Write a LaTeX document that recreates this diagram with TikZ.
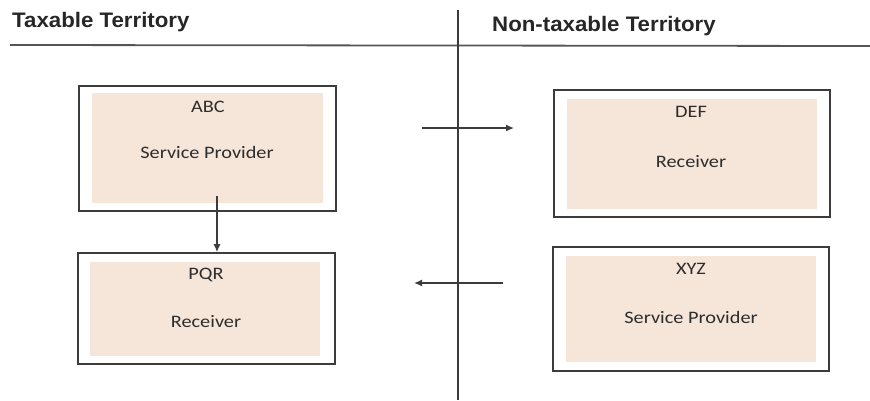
\documentclass[tikz,border=0pt]{standalone}
\usepackage{fontspec}
\setmainfont{Carlito}
\newfontfamily\boxfont[FakeStretch=1.16]{Carlito}
\newfontfamily\headfont[FakeStretch=1.06]{Liberation Sans}
\usetikzlibrary{arrows.meta}
\definecolor{peach}{RGB}{246,229,217}
\definecolor{edge}{RGB}{60,60,60}
\definecolor{txt}{RGB}{45,45,45}
\definecolor{rule}{RGB}{85,85,85}
\tikzset{
  outerbox/.style={draw=edge, line width=1.6pt, fill=white, inner sep=0pt},
  innerfill/.style={fill=peach, draw=none, inner sep=0pt},
  boxtext/.style={text=txt, font=\boxfont\fontsize{17.5}{19}\selectfont, inner sep=0pt},
  headtext/.style={text=black!85, font=\headfont\bfseries\fontsize{21}{23}\selectfont, anchor=west, inner sep=0pt},
  ruleline/.style={draw=rule, line width=1.8pt},
  flow/.style={draw=edge, line width=1.4pt, -{Latex[length=8pt,width=7pt]}}
}
\begin{document}
\begin{tikzpicture}[x=1pt,y=-1pt]
\useasboundingbox (0,0) rectangle (870,400);
% headers
\node[headtext] (tax) at (12,22) {Taxable Territory};
\node[headtext] (nontax) at (492,26) {Non-taxable Territory};
\coordinate (hl1) at (10,45);
\coordinate (hl2) at (870,46);
\draw[ruleline] (hl1) -- (hl2);
\coordinate (vt) at (458,10);
\coordinate (vb) at (458,400);
\draw[draw=edge, line width=1.3pt] (vt) -- (vb);
% boxes
\node[outerbox, minimum width=257pt, minimum height=125pt] (abc) at (207.5,148.5) {};
\node[innerfill, minimum width=231pt, minimum height=110pt] (abcin) at (207.5,148) {};
\node[boxtext] (abct) at (208,107) {ABC};
\node[boxtext] (abcs) at (207,152) {Service Provider};

\node[outerbox, minimum width=257pt, minimum height=111pt] (pqr) at (206.5,308.5) {};
\node[innerfill, minimum width=230pt, minimum height=94pt] (pqrin) at (205,309) {};
\node[boxtext] (pqrt) at (206,275) {PQR};
\node[boxtext] (pqrs) at (206,322) {Receiver};

\node[outerbox, minimum width=276pt, minimum height=127pt] (def) at (692,153.5) {};
\node[innerfill, minimum width=250pt, minimum height=110pt] (defin) at (692,154) {};
\node[boxtext] (deft) at (691,112) {DEF};
\node[boxtext] (defs) at (691,162) {Receiver};

\node[outerbox, minimum width=276pt, minimum height=124pt] (xyz) at (691,309) {};
\node[innerfill, minimum width=250pt, minimum height=106pt] (xyzin) at (691,309) {};
\node[boxtext] (xyzt) at (691,269) {XYZ};
\node[boxtext] (xyzs) at (691,317) {Service Provider};
% connectors
\coordinate (a1) at (217,196);
\draw[flow] (a1) -- (a1 |- pqr.north);
\coordinate (r1) at (422,128);
\coordinate (r2) at (514,128);
\draw[flow] (r1) -- (r2);
\coordinate (l1) at (503,283);
\coordinate (l2) at (414,283);
\draw[flow] (l1) -- (l2);
\end{tikzpicture}
\end{document}
